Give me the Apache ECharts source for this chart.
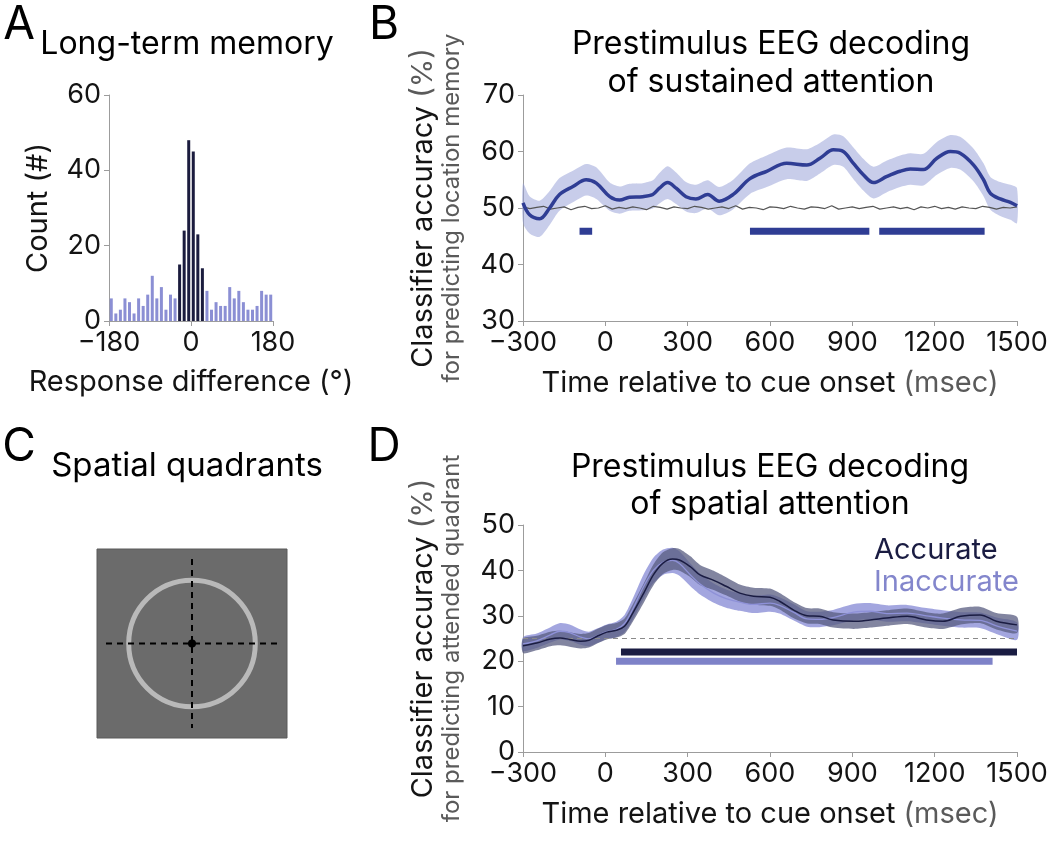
<!DOCTYPE html>
<html>
<head>
<meta charset="utf-8">
<script src="https://cdn.jsdelivr.net/npm/echarts/dist/echarts.min.js"></script>
<style>
html,body{margin:0;padding:0;background:#fff;}
#chart{width:1053px;height:842px;}
</style>
</head>
<body>
<div id="chart"></div>
<script>
// ---------------- DATA ----------------
// Panel A: histogram of response difference (10° bins)
const binCenters = [-175,-165,-155,-145,-135,-125,-115,-105,-95,-85,-75,-65,-55,-45,-35,-25,-15,-5,
                    5,15,25,35,45,55,65,75,85,95,105,115,125,135,145,155,165,175];
const counts = [6,2,3,6,5,2,6,4,7,12,6,9,3,7,6,15,24,48,
                45,23,14,8,3,5,4,4,9,6,8,5,3,3,4,8,7,7];
const accurateLimit = 30; // bins within ±30° drawn dark
const histTicks = [-180, 0, 180];

// Panel B: sustained attention decoding
const bTime = [-300,-276,-239,-203,-167,-118,-70,-33,16,52,88,136,173,197,227,258,294,330,373,415,
               466,527,588,661,734,782,831,867,904,940,977,1026,1074,1111,1159,1208,1257,1293,1342,1378,
               1403,1439,1476,1500];
const bMean = [50.9,48.8,48.1,50.0,52.4,53.8,55.0,54.4,52.0,51.4,51.9,52.0,52.4,53.5,54.5,53.5,52.0,51.6,52.4,51.2,
               52.4,55.2,56.5,57.9,57.6,58.8,60.3,60.0,57.9,55.9,54.5,55.6,56.5,56.9,56.8,58.8,60.0,59.7,57.6,55.0,
               52.6,51.6,51.0,50.4];
const bErr = [3.5,3.3,3.2,3.0,2.9,2.8,2.8,2.8,2.5,2.4,2.4,2.4,2.5,2.7,2.9,2.8,2.6,2.5,2.5,2.5,
              2.6,2.7,2.8,2.8,2.8,2.7,2.7,2.7,2.8,2.8,2.8,2.8,2.8,2.8,2.8,2.9,2.9,2.9,2.9,2.9,
              2.9,3.0,3.1,3.1];
const chanceStart = -300, chanceStep = 25;
const bChance = [50.2,49.9,50.1,50.3,49.8,50.0,50.2,49.7,50.1,50.3,49.9,50.0,50.4,49.8,50.1,49.9,50.2,50.0,49.7,50.3,
                 50.1,49.8,50.2,50.0,49.9,50.3,50.1,49.8,50.0,50.2,49.9,50.4,49.8,50.1,50.0,49.7,50.2,50.1,49.9,50.3,
                 50.0,49.8,50.2,50.1,49.9,50.4,49.8,50.0,50.2,49.9,50.1,50.3,49.8,50.0,50.2,49.9,50.1,49.7,50.2,50.0,
                 50.3,49.9,50.1,49.8,50.2,50.0,49.9,50.3,50.1,49.8,50.1,50.0,50.2];
const bSigLevel = 45.9;
const bSig = [[-94,-48],[527,962],[998,1382]];

// Panel D: spatial attention decoding
const dTime = [-300,-250,-200,-165,-130,-90,-60,-30,5,40,70,100,140,175,210,245,270,310,345,395,
               440,490,540,600,635,685,735,780,830,905,965,1025,1100,1170,1230,1295,1365,1425,1500];
const accMean = [23.4,24.0,24.9,25.1,24.8,24.4,24.6,25.5,26.4,26.8,27.7,30.6,35.0,39.0,41.6,42.5,42.3,40.8,39.0,37.8,
                 36.5,35.0,34.3,34.1,33.2,31.3,30.0,29.9,29.1,28.8,29.1,29.5,29.9,29.1,28.8,29.9,30.2,28.8,28.0];
const accErr = [1.6,1.6,1.6,1.6,1.6,1.6,1.6,1.6,1.6,1.6,1.7,1.9,2.1,2.3,2.4,2.4,2.4,2.3,2.2,2.1,
                2.0,1.9,1.9,1.9,1.8,1.8,1.7,1.7,1.7,1.7,1.7,1.7,1.7,1.7,1.7,1.8,1.8,1.8,1.8];
const inaccMean = [23.8,24.5,25.8,26.6,26.3,25.3,24.9,25.6,26.5,27.0,28.3,31.5,36.5,40.0,41.8,42.2,41.5,39.0,37.0,35.0,
                   33.8,33.0,32.5,32.8,32.3,30.8,29.3,29.2,29.6,30.8,31.0,30.5,30.6,30.0,29.5,29.1,29.0,27.8,26.6];
const inaccErr = [1.5,1.6,1.7,1.8,1.8,1.7,1.6,1.6,1.6,1.7,1.9,2.3,2.7,2.8,2.8,2.8,2.7,2.5,2.3,2.1,
                  2.0,1.9,1.9,1.9,1.8,1.8,1.7,1.7,1.7,1.8,1.8,1.8,1.8,1.7,1.7,1.7,1.7,1.8,1.9];
const dChance = 25;
const accSig = {level: 22, range: [57, 1500]};
const inaccSig = {level: 20, range: [39, 1411]};
const timeTicks = {min: -300, max: 1500, step: 300};

// ---------------- STYLE ----------------
const FONT = 'Inter, "Liberation Sans", Arial, sans-serif';
const TXT = '#141414';
const GRAYTXT = '#5a5a5a';
const AXIS = '#9c9c9c';
const C_LIGHT_BAR = '#8b8fd4';
const C_DARK_BAR = '#1b1c3e';
const C_B_LINE = '#2f3d94';
const C_B_BAND = 'rgba(150,160,215,0.52)';
const C_ACC = '#1a1c42';
const C_ACC_BAND = 'rgba(88,92,128,0.75)';
const C_INACC = '#8e91d8';
const C_INACC_BAND = 'rgba(128,131,210,0.72)';

const fmt = v => v < 0 ? '\u2212' + Math.abs(v) : String(v);

function axisBase(extra) {
  return Object.assign({
    type: 'value',
    axisLine: {show: true, onZero: false, lineStyle: {color: AXIS, width: 1}},
    axisTick: {show: true, length: 5, lineStyle: {color: AXIS, width: 1}},
    splitLine: {show: false},
    axisLabel: {fontSize: 27, fontFamily: FONT, color: TXT, formatter: fmt},
    nameTextStyle: {fontFamily: FONT}
  }, extra);
}

const richY = {
  a: {fontSize: 29, fontFamily: FONT, color: TXT, lineHeight: 31},
  g: {fontSize: 29, fontFamily: FONT, color: GRAYTXT, lineHeight: 31},
  s: {fontSize: 24, fontFamily: FONT, color: GRAYTXT, lineHeight: 26}
};
const richX = {
  a: {fontSize: 29, fontFamily: FONT, color: TXT, lineHeight: 34},
  g: {fontSize: 29, fontFamily: FONT, color: GRAYTXT, lineHeight: 34}
};

function band(xi, yi, T, M, E, color) {
  return {
    type: 'custom', xAxisIndex: xi, yAxisIndex: yi, silent: true, z: 1,
    data: [[T[0], M[0]]],
    renderItem: function (params, api) {
      const pts = [];
      for (let i = 0; i < T.length; i++) pts.push(api.coord([T[i], M[i] + E[i]]));
      for (let i = T.length - 1; i >= 0; i--) pts.push(api.coord([T[i], M[i] - E[i]]));
      return {type: 'polygon', shape: {points: pts, smooth: 0.25}, style: {fill: color}};
    }
  };
}
function meanLine(name, xi, yi, T, M, color, width, z) {
  return {
    name: name, type: 'line', xAxisIndex: xi, yAxisIndex: yi, z: z,
    data: T.map((t, i) => [t, M[i]]), smooth: 0.35, showSymbol: false, symbol: 'none',
    lineStyle: {color: color, width: width}, itemStyle: {color: color}
  };
}
function sigBar(xi, yi, range, level, color) {
  return {
    type: 'line', xAxisIndex: xi, yAxisIndex: yi, z: 3, silent: true,
    data: [[range[0], level], [range[1], level]], symbol: 'none',
    lineStyle: {color: color, width: 7, cap: 'butt'}
  };
}

const series = [];
// A histogram
series.push({
  type: 'bar', xAxisIndex: 0, yAxisIndex: 0, barWidth: 3,
  data: counts.map((c, i) => ({
    value: [binCenters[i], c],
    itemStyle: {color: Math.abs(binCenters[i]) < accurateLimit ? C_DARK_BAR : C_LIGHT_BAR}
  }))
});
// B
series.push(band(1, 1, bTime, bMean, bErr, C_B_BAND));
series.push({
  type: 'line', xAxisIndex: 1, yAxisIndex: 1, z: 2, symbol: 'none', silent: true,
  data: bChance.map((v, i) => [chanceStart + chanceStep * i, v]),
  lineStyle: {color: '#555', width: 1.2}
});
series.push(meanLine('Sustained', 1, 1, bTime, bMean, C_B_LINE, 3.5, 4));
bSig.forEach(r => series.push(sigBar(1, 1, r, bSigLevel, C_B_LINE)));
// D
series.push({
  type: 'line', xAxisIndex: 2, yAxisIndex: 2, z: 2, symbol: 'none', silent: true,
  data: [[timeTicks.min, dChance], [timeTicks.max, dChance]],
  lineStyle: {color: '#8a8a8a', width: 1.2, type: [5, 4]}
});
series.push(band(2, 2, dTime, inaccMean, inaccErr, C_INACC_BAND));
series.push(band(2, 2, dTime, accMean, accErr, C_ACC_BAND));
series.push(meanLine('Inaccurate', 2, 2, dTime, inaccMean, C_INACC, 1.3, 4));
series.push(meanLine('Accurate', 2, 2, dTime, accMean, C_ACC, 1.5, 5));
series.push(sigBar(2, 2, accSig.range, accSig.level, C_ACC));
series.push(sigBar(2, 2, inaccSig.range, inaccSig.level, '#7e82c8'));

function txt(x, y, text, size, extra) {
  return {type: 'text', x: x, y: y, z: 10, silent: true,
    style: Object.assign({text: text, fontSize: size, fontFamily: FONT, fill: '#000',
      align: 'center', verticalAlign: 'middle'}, extra || {})};
}

const option = {
  animation: false,
  backgroundColor: '#fff',
  grid: [
    {left: 109, top: 95, width: 164, height: 226},
    {left: 523, top: 95, width: 494, height: 226},
    {left: 523, top: 525, width: 494, height: 227}
  ],
  xAxis: [
    axisBase({gridIndex: 0, min: histTicks[0], max: histTicks[2], interval: histTicks[2],
      name: 'Response difference (°)', nameLocation: 'middle', nameGap: 47,
      nameTextStyle: {fontFamily: FONT, fontSize: 29, color: TXT}}),
    axisBase({gridIndex: 1, min: timeTicks.min, max: timeTicks.max, interval: timeTicks.step,
      name: '{a|Time relative to cue onset }{g|(msec)}', nameLocation: 'middle', nameGap: 45,
      nameTextStyle: {rich: richX}}),
    axisBase({gridIndex: 2, min: timeTicks.min, max: timeTicks.max, interval: timeTicks.step,
      name: '{a|Time relative to cue onset }{g|(msec)}', nameLocation: 'middle', nameGap: 45,
      nameTextStyle: {rich: richX}})
  ],
  yAxis: [
    axisBase({gridIndex: 0, min: 0, max: 60, interval: 20,
      name: 'Count (#)', nameLocation: 'middle', nameRotate: 90, nameGap: 56,
      nameTextStyle: {fontFamily: FONT, fontSize: 29, color: TXT}}),
    axisBase({gridIndex: 1, min: 30, max: 70, interval: 10,
      name: '{a|Classifier accuracy }{g|(%)}\n{s|for predicting location memory}',
      nameLocation: 'middle', nameRotate: 90, nameGap: 58, nameTextStyle: {rich: richY}}),
    axisBase({gridIndex: 2, min: 0, max: 50, interval: 10,
      name: '{a|Classifier accuracy }{g|(%)}\n{s|for predicting attended quadrant}',
      nameLocation: 'middle', nameRotate: 90, nameGap: 58, nameTextStyle: {rich: richY}})
  ],
  legend: {
    data: [{name: 'Accurate', textStyle: {color: C_ACC}}, {name: 'Inaccurate', textStyle: {color: '#8386cc'}}],
    orient: 'vertical', left: 869, top: 534, icon: 'none', itemWidth: 0, itemHeight: 10, itemGap: 0,
    padding: 0, selectedMode: false,
    textStyle: {fontSize: 29, fontFamily: FONT, lineHeight: 32}
  },
  graphic: [
    txt(19, 25, 'A', 46),
    txt(187, 44, 'Long-term memory', 32),
    txt(384, 25, 'B', 46),
    txt(771, 63, 'Prestimulus EEG decoding\nof sustained attention', 32, {lineHeight: 38}),
    txt(19, 447, 'C', 46),
    txt(187, 466, 'Spatial quadrants', 33),
    txt(384, 447, 'D', 46),
    txt(770, 486, 'Prestimulus EEG decoding\nof spatial attention', 32, {lineHeight: 37}),
    // Panel C schematic
    {type: 'rect', shape: {x: 97, y: 549, width: 190, height: 189}, style: {fill: '#6b6b6b', stroke: '#5a5a5a', lineWidth: 1}},
    {type: 'circle', shape: {cx: 192, cy: 643.5, r: 63.3}, style: {fill: 'transparent', stroke: '#b9b9b9', lineWidth: 5}},
    {type: 'line', shape: {x1: 106, y1: 643.5, x2: 277, y2: 643.5}, style: {stroke: '#000', lineWidth: 2, lineDash: [6, 5]}},
    {type: 'line', shape: {x1: 192, y1: 559, x2: 192, y2: 728}, style: {stroke: '#000', lineWidth: 2, lineDash: [6, 5]}},
    {type: 'circle', shape: {cx: 192, cy: 643.5, r: 4}, style: {fill: '#000'}}
  ],
  series: series
};

const chart = echarts.init(document.getElementById('chart'), null, {renderer: 'canvas'});
chart.setOption(option);
</script>
</body>
</html>
